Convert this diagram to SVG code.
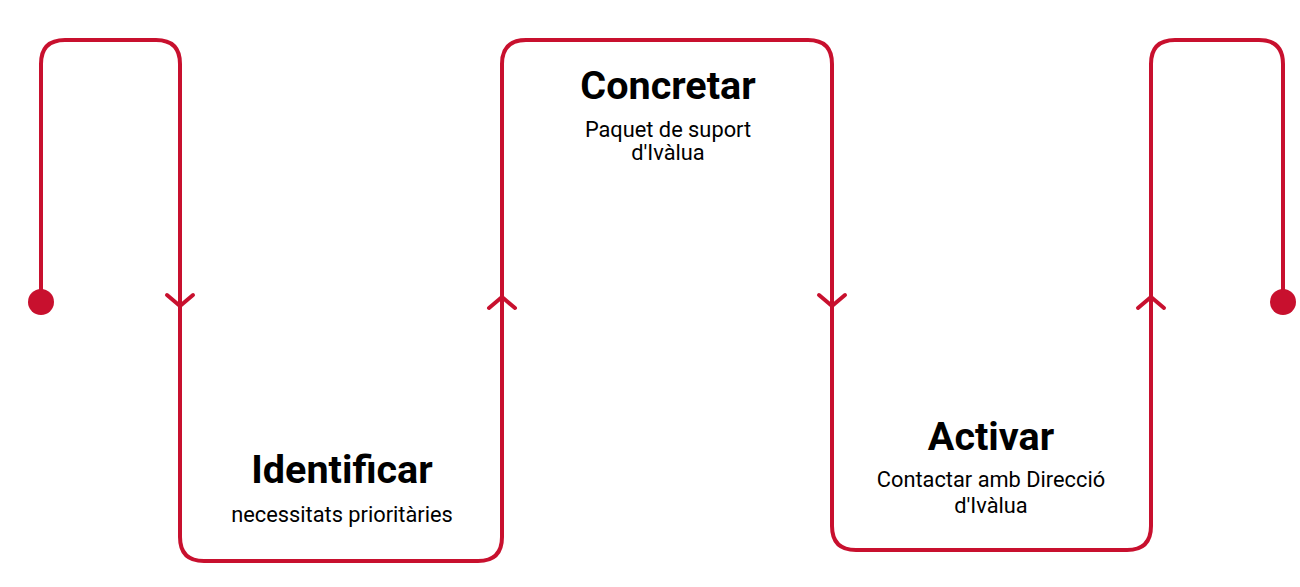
<svg xmlns="http://www.w3.org/2000/svg" width="1300" height="587" viewBox="0 0 1300 587">
<style>
.ln{fill:none;stroke:#c8102e;stroke-width:4;stroke-linecap:round;stroke-linejoin:round}
.dot{fill:#c8102e}
.t{font-family:Roboto,"Liberation Sans",sans-serif;font-weight:700;font-size:39.5px;fill:#000;text-anchor:middle}
.s{font-family:Roboto,"Liberation Sans",sans-serif;font-size:21.8px;fill:#000;text-anchor:middle}
</style>
<rect width="1300" height="587" fill="#fff"/>
<g id="connectors">
<path class="ln" d="M41 302 V64 Q41 40 65 40 H156 Q180 40 180 64 V537 Q180 561 204 561 H478 Q502 561 502 537 V64 Q502 40 526 40 H808 Q832 40 832 64 V526 Q832 550 856 550 H1127 Q1151 550 1151 526 V64 Q1151 40 1175 40 H1259 Q1283 40 1283 64 V302"/>
<path class="ln" d="M167 295 L180 306 L193 295"/>
<path class="ln" d="M489 308 L502 297 L515 308"/>
<path class="ln" d="M819 295 L832 306 L845 295"/>
<path class="ln" d="M1138 308 L1151 297 L1164 308"/>
</g>
<g id="start"><circle class="dot" cx="41" cy="302" r="13"/></g>
<g id="end"><circle class="dot" cx="1283" cy="302" r="13"/></g>
<g id="identificar">
<text class="t" x="342" y="483">Identificar</text>
<text class="s" x="342" y="522">necessitats prioritàries</text>
</g>
<g id="concretar">
<text class="t" x="668" y="99">Concretar</text>
<text class="s" x="668" y="137">Paquet de suport</text>
<text class="s" x="668" y="160">d'Ivàlua</text>
</g>
<g id="activar">
<text class="t" x="991" y="450">Activar</text>
<text class="s" x="991" y="487">Contactar amb Direcció</text>
<text class="s" x="991" y="513">d'Ivàlua</text>
</g>
</svg>
